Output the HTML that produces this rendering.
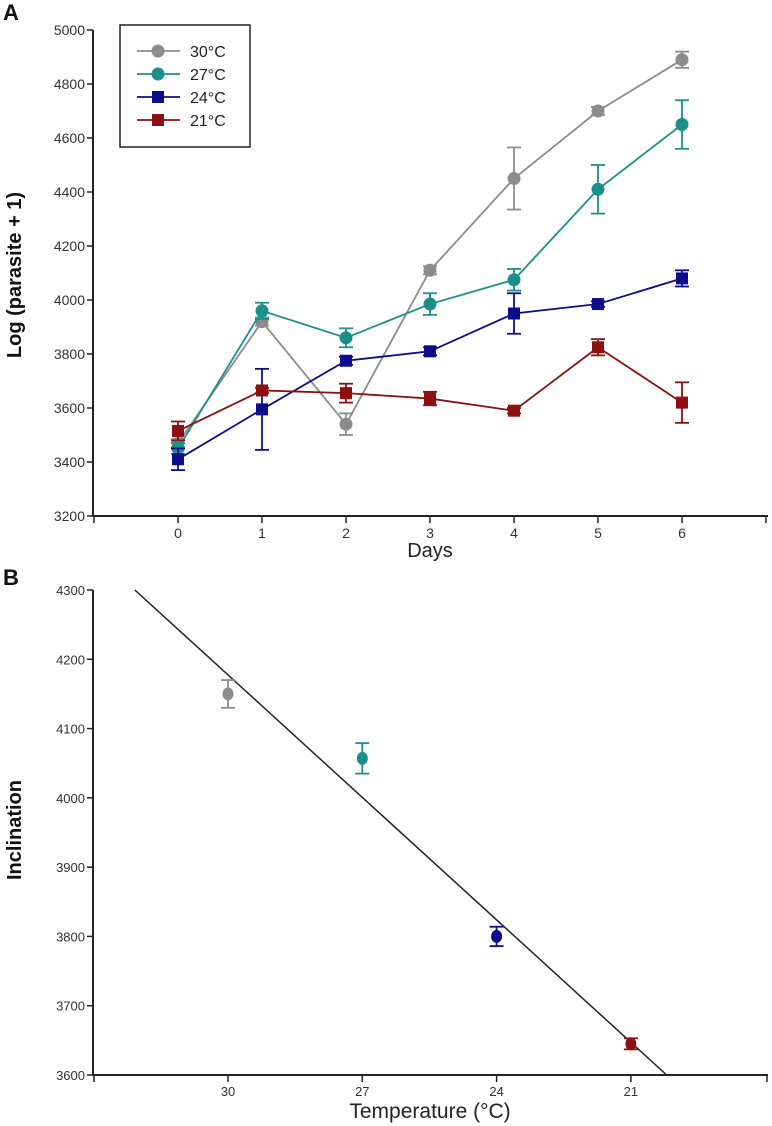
<!DOCTYPE html>
<html><head><meta charset="utf-8">
<style>
body{margin:0;background:#fff;}
svg{display:block;font-family:"Liberation Sans",Arial,sans-serif;}
</style></head>
<body>
<svg id="chart" width="772" height="1126" viewBox="0 0 772 1126" xmlns="http://www.w3.org/2000/svg">
<g id="pa"></g>
<g id="pb"></g>
</svg>
<script>
// Panel A data
const days = [0,1,2,3,4,5,6];
const seriesNames = ["30°C","27°C","24°C","21°C"];
const seriesColors = ["#8c8c8c","#1a9088","#0d0d8c","#8c1010"];
const seriesShapes = ["circle","circle","square","square"];
const s30 = [3470,3920,3540,4110,4450,4700,4890];
const e30 = [15,15,40,15,115,15,30];
const s27 = [3450,3960,3860,3985,4075,4410,4650];
const e27 = [20,30,35,40,40,90,90];
const s24 = [3410,3595,3775,3810,3950,3985,4080];
const e24 = [40,150,15,15,75,10,30];
const s21 = [3515,3665,3655,3635,3590,3825,3620];
const e21 = [35,10,35,25,10,30,75];
const yTicksA = [3200,3400,3600,3800,4000,4200,4400,4600,4800,5000];
// Panel B data
const temps = [30,27,24,21];
const inclination = [4150,4057,3800,3645];
const inclErr = [20,22,14,8];
const fitLineT = [32.08,20.2];
const fitLineV = [4300,3600];
const yTicksB = [3600,3700,3800,3900,4000,4100,4200,4300];

const NS="http://www.w3.org/2000/svg";
function mk(parent,tag,attrs,text){const e=document.createElementNS(NS,tag);for(const k in attrs)e.setAttribute(k,attrs[k]);if(text!==undefined)e.textContent=text;parent.appendChild(e);return e;}

// ---- Panel A ----
const pa=document.getElementById('pa');
const xA=d=>178+(d)*84;
const yA=v=>516-(v-3200)/1800*486;
let el;
el=mk(pa,'line',{x1:93,y1:30,x2:93,y2:516,stroke:'#222','stroke-width':2});


el=mk(pa,'line',{x1:93,y1:516,x2:768,y2:516,stroke:'#222','stroke-width':2});


yTicksA.forEach(t=>{
  mk(pa,'line',{x1:87,y1:yA(t),x2:93,y2:yA(t),stroke:'#222','stroke-width':1.5});
  el=mk(pa,'text',{x:85,y:yA(t)+5,'text-anchor':'end','font-size':14,fill:'#333'},t);
  
  
});
mk(pa,'line',{x1:94,y1:516,x2:94,y2:523,stroke:'#222','stroke-width':1.5});
mk(pa,'line',{x1:766,y1:516,x2:766,y2:523,stroke:'#222','stroke-width':1.5});
days.forEach(d=>{
  mk(pa,'line',{x1:xA(d),y1:516,x2:xA(d),y2:523,stroke:'#222','stroke-width':1.5});
  el=mk(pa,'text',{x:xA(d),y:538,'text-anchor':'middle','font-size':14,fill:'#333'},d);
  
  
});
el=mk(pa,'text',{x:430,y:557,'text-anchor':'middle','font-size':20,fill:'#222'},'Days');


el=mk(pa,'text',{x:0,y:0,'text-anchor':'middle','font-size':20,'font-weight':'bold',fill:'#111',transform:'translate(21,275) rotate(-90)'},'Log (parasite + 1)');


el=mk(pa,'text',{x:3,y:20,'font-size':22,'font-weight':'bold',fill:'#111'},'A');



function marker(g,shape,x,y,c,r){
  if(shape==='circle') return mk(g,'circle',{cx:x,cy:y,r:r||6.5,fill:c});
  return mk(g,'rect',{x:x-6,y:y-6,width:12,height:12,fill:c});
}
const sv=[s30,s27,s24,s21], se=[e30,e27,e24,e21];
sv.forEach((vals,i)=>{
  const g=mk(pa,'g',{});
  
  
  const c=seriesColors[i];
  mk(g,'polyline',{points:vals.map((v,j)=>xA(days[j])+','+yA(v)).join(' '),fill:'none',stroke:c,'stroke-width':1.8});
  vals.forEach((v,j)=>{
    const x=xA(days[j]),e=se[i][j];
    mk(g,'line',{x1:x,y1:yA(v-e),x2:x,y2:yA(v+e),stroke:c,'stroke-width':1.8});
    mk(g,'line',{x1:x-7,y1:yA(v-e),x2:x+7,y2:yA(v-e),stroke:c,'stroke-width':1.8});
    mk(g,'line',{x1:x-7,y1:yA(v+e),x2:x+7,y2:yA(v+e),stroke:c,'stroke-width':1.8});
    const m=marker(g,seriesShapes[i],x,yA(v),c);
    
    
  });
});
// legend
const lg=mk(pa,'g',{});


mk(lg,'rect',{x:120,y:25,width:130,height:122,fill:'#fff',stroke:'#222','stroke-width':1.5});
seriesNames.forEach((n,i)=>{
  const y=51+i*23;
  const eg=mk(lg,'g',{});
  
  
  mk(eg,'line',{x1:137,y1:y,x2:180,y2:y,stroke:seriesColors[i],'stroke-width':1.8});
  marker(eg,seriesShapes[i],158,y,seriesColors[i]);
  mk(eg,'text',{x:190,y:y+6,'font-size':16,fill:'#222'},n);
});

// ---- Panel B ----
const pb=document.getElementById('pb');
const xB=t=>228+(30-t)/3*134.3;
const yB=v=>1075-(v-3600)/700*485;
el=mk(pb,'line',{x1:93,y1:590,x2:93,y2:1075,stroke:'#222','stroke-width':2});


el=mk(pb,'line',{x1:93,y1:1075,x2:768,y2:1075,stroke:'#222','stroke-width':2});


yTicksB.forEach(t=>{
  mk(pb,'line',{x1:87,y1:yB(t),x2:93,y2:yB(t),stroke:'#222','stroke-width':1.5});
  el=mk(pb,'text',{x:85,y:yB(t)+5,'text-anchor':'end','font-size':13,fill:'#333'},t);
  
  
});
mk(pb,'line',{x1:94,y1:1075,x2:94,y2:1082,stroke:'#222','stroke-width':1.5});
mk(pb,'line',{x1:767,y1:1075,x2:767,y2:1082,stroke:'#222','stroke-width':1.5});
temps.forEach(t=>{
  mk(pb,'line',{x1:xB(t),y1:1075,x2:xB(t),y2:1082,stroke:'#222','stroke-width':1.5});
  el=mk(pb,'text',{x:xB(t),y:1096,'text-anchor':'middle','font-size':13,fill:'#333'},t);
  
  
});
el=mk(pb,'text',{x:430,y:1118,'text-anchor':'middle','font-size':21,fill:'#222'},'Temperature (°C)');


el=mk(pb,'text',{x:0,y:0,'text-anchor':'middle','font-size':20,'font-weight':'bold',fill:'#111',transform:'translate(21,830) rotate(-90)'},'Inclination');


el=mk(pb,'text',{x:3,y:585,'font-size':22,'font-weight':'bold',fill:'#111'},'B');


el=mk(pb,'line',{x1:xB(fitLineT[0]),y1:yB(fitLineV[0]),x2:xB(fitLineT[1]),y2:yB(fitLineV[1]),stroke:'#222','stroke-width':1.5});


temps.forEach((t,i)=>{
  const x=xB(t),v=inclination[i],e=inclErr[i],c=seriesColors[i];
  const g=mk(pb,'g',{});
  
  
  mk(g,'line',{x1:x,y1:yB(v-e),x2:x,y2:yB(v+e),stroke:c,'stroke-width':1.8});
  mk(g,'line',{x1:x-7,y1:yB(v-e),x2:x+7,y2:yB(v-e),stroke:c,'stroke-width':1.8});
  mk(g,'line',{x1:x-7,y1:yB(v+e),x2:x+7,y2:yB(v+e),stroke:c,'stroke-width':1.8});
  mk(g,'ellipse',{cx:x,cy:yB(v),rx:5.5,ry:6.5,fill:c});
});
</script>
</body></html>
